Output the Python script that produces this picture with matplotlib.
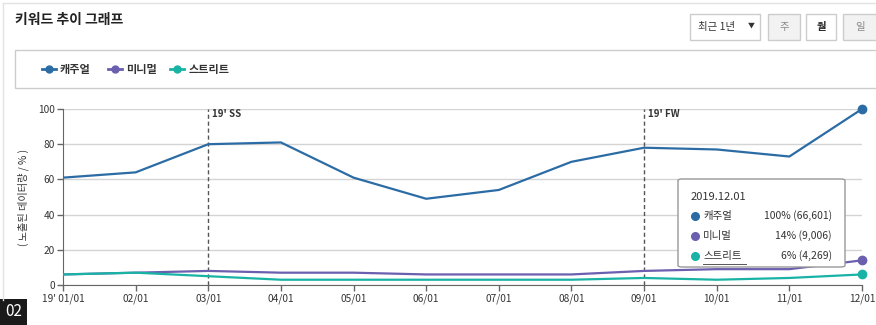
import matplotlib.pyplot as plt
from matplotlib.patches import Rectangle, FancyBboxPatch
from matplotlib.lines import Line2D

plt.rcParams['font.family'] = ['Noto Sans CJK KR', 'DejaVu Sans']

months = ["19' 01/01", "02/01", "03/01", "04/01", "05/01", "06/01",
          "07/01", "08/01", "09/01", "10/01", "11/01", "12/01"]
casual = [61, 64, 80, 81, 61, 49, 54, 70, 78, 77, 73, 100]
minimal = [6, 7, 8, 7, 7, 6, 6, 6, 8, 9, 9, 14]
street = [6, 7, 5, 3, 3, 3, 3, 3, 4, 3, 4, 6]

series_names = ["캐주얼", "미니멀", "스트리트"]
series_colors = ["#2c6ca5", "#6b5fb0", "#19b3a6"]
tooltip_date = "2019.12.01"
tooltip_values = ["100% (66,601)", "14% (9,006)", "6% (4,269)"]

season_marks = [(2, "19' SS"), (8, "19' FW")]

W, H = 876, 325
fig = plt.figure(figsize=(W / 100, H / 100), dpi=100)
fig.patch.set_facecolor("white")


def fx(px):
    return px / W


def fy(py):
    return 1 - py / H


# outer panel frame
fig.add_artist(Line2D([fx(3), fx(876)], [fy(3), fy(3)], color="#e2e2e2", lw=1))
fig.add_artist(Line2D([fx(3), fx(3)], [fy(3), fy(300)], color="#e2e2e2", lw=1))

# title
fig.text(fx(15), fy(20), "키워드 추이 그래프", fontsize=10, fontweight="bold",
         color="#222222", va="center", ha="left")

# period selector + buttons
fig.add_artist(Rectangle((fx(690), fy(40)), fx(70), 26 / H, facecolor="white",
                         edgecolor="#cccccc", lw=1))
fig.text(fx(698), fy(27), "최근 1년", fontsize=7.5, color="#333333", va="center")
fig.text(fx(748), fy(26), "▼", fontsize=5, color="#333333", va="center")
buttons = [("주", 768, 800, "#f2f2f2", "#888888", "normal"),
           ("월", 806, 836, "white", "#222222", "bold"),
           ("일", 843, 878, "#f2f2f2", "#888888", "normal")]
for label, x0, x1, bg, fg, weight in buttons:
    fig.add_artist(Rectangle((fx(x0), fy(40)), fx(x1 - x0), 26 / H, facecolor=bg,
                             edgecolor="#cccccc", lw=1))
    fig.text(fx((x0 + x1) / 2), fy(27), label, fontsize=7.5, color=fg,
             fontweight=weight, ha="center", va="center")

# legend box
fig.add_artist(Rectangle((fx(15), fy(88)), fx(870), 38 / H, facecolor="white",
                         edgecolor="#cccccc", lw=1))
legend_x = [(42, 60), (108, 126), (170, 189)]
for (lx, tx), name, color in zip(legend_x, series_names, series_colors):
    fig.add_artist(Line2D([fx(lx), fx(lx + 14)], [fy(69), fy(69)], color=color,
                          lw=2))
    fig.add_artist(Line2D([fx(lx + 7)], [fy(69)], color=color, marker="o",
                          markersize=5, lw=0))
    fig.text(fx(tx), fy(69), name, fontsize=8, fontweight="bold",
             color="#333333", va="center")

# main chart
ax = fig.add_axes([fx(63), fy(285), fx(862 - 63), (285 - 109) / H])
x = list(range(len(months)))
for values, color in zip([casual, minimal, street], series_colors):
    ax.plot(x, values, color=color, lw=1.6, zorder=3)
    ax.plot(x[-1], values[-1], "o", color=color, markersize=6, zorder=4,
            clip_on=False)

ax.set_xlim(0, len(months) - 1)
ax.set_ylim(0, 100)
ax.set_yticks(range(0, 101, 20))
ax.set_xticks(x)
ax.set_xticklabels(months)
ax.grid(axis="y", color="#d4d4d4", lw=1)
ax.set_axisbelow(True)
for side in ["top", "right"]:
    ax.spines[side].set_visible(False)
for side in ["left", "bottom"]:
    ax.spines[side].set_color("#666666")
ax.tick_params(axis="both", colors="#666666", labelcolor="#333333",
               labelsize=7.3, length=4, width=1)
ax.tick_params(axis="x", pad=2)
ax.tick_params(axis="y", pad=2)
ax.set_ylabel("( 노출된 데이터량 / % )", fontsize=7.3, color="#333333",
              labelpad=6)

for pos, label in season_marks:
    ax.axvline(pos, color="#555555", lw=1, ls=(0, (3, 2)), zorder=2)
    ax.text(pos + 0.05, 97, label, fontsize=7, fontweight="bold",
            color="#333333", va="center", ha="left")

# hover tooltip
fig.add_artist(FancyBboxPatch((fx(678), fy(267)), fx(167), 88 / H,
                              boxstyle="round,pad=0,rounding_size=0.005",
                              facecolor="white", edgecolor="#999999", lw=1,
                              zorder=10))
fig.text(fx(691), fy(197), tooltip_date, fontsize=8, color="#333333",
         va="center", zorder=11)
for i, (name, color, val) in enumerate(zip(series_names, series_colors,
                                           tooltip_values)):
    yy = fy(216 + i * 20)
    fig.add_artist(Line2D([fx(695)], [yy], marker="o", color=color,
                          markersize=5.5, lw=0, zorder=11))
    fig.text(fx(703), yy, name, fontsize=7.5, color="#333333",
             va="center", zorder=11)
    fig.text(fx(832), yy, val, fontsize=7.5, color="#333333", va="center",
             ha="right", zorder=11)
fig.add_artist(Line2D([fx(703), fx(746)], [fy(264), fy(264)], color="#555555",
                      lw=0.7, zorder=11))

# figure number badge
fig.add_artist(Rectangle((0, 0), fx(27), 26 / H, facecolor="#1a1a1a",
                         edgecolor="none"))
fig.text(fx(13.5), fy(312), "02", fontsize=11, color="white", ha="center",
         va="center", fontweight="light")

fig.savefig("out.png", dpi=100)
